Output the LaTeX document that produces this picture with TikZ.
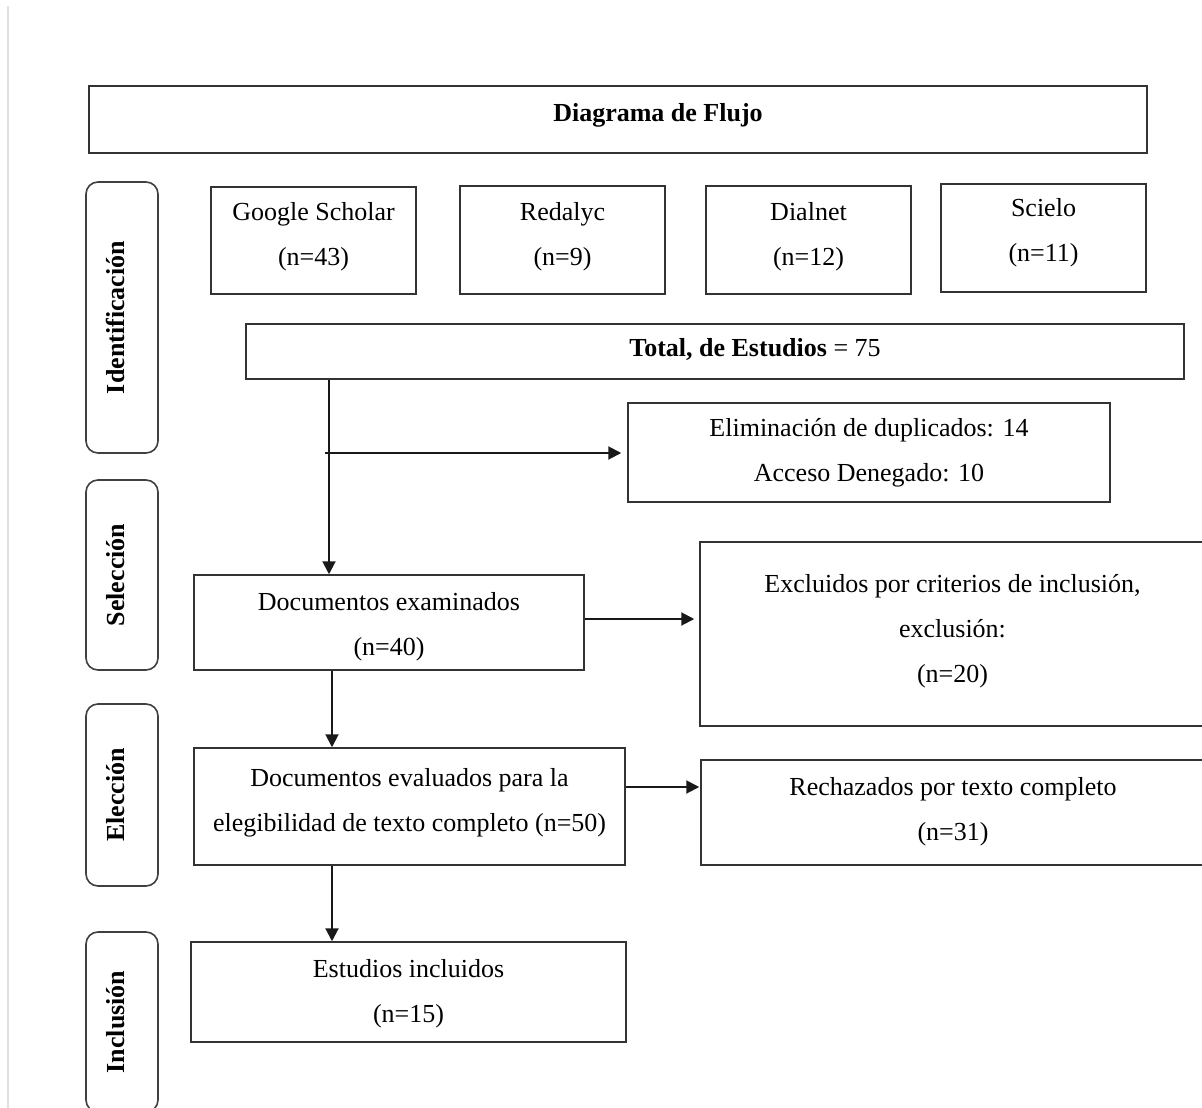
\documentclass[tikz,border=0pt]{standalone}
\usepackage{fontspec}
\setmainfont{Liberation Serif}
\usetikzlibrary{arrows.meta}
\newcommand\tp[1]{\rule{0pt}{#1}}
\newcommand\bt[1]{\rule[-#1]{0pt}{#1}}
\begin{document}
\begin{tikzpicture}[x=1pt,y=-1pt,
  box/.style={draw=black!80, line width=1.5pt, rectangle, inner sep=0pt, align=center,
    font=\fontsize{26}{45}\selectfont},
  side/.style={draw=black!75, line width=1.6pt, rounded corners=12pt, inner sep=0pt,
    rotate=90, font=\fontsize{26}{30}\selectfont\bfseries, text height=18pt, text depth=13pt},
  arr/.style={line width=2pt, draw=black!90, -{Triangle[length=13pt,width=13pt]}},
  edge/.style={draw=black!12, line width=2pt}
]
\useasboundingbox (0,0) rectangle (1202,1108);
\clip (0,0) rectangle (1202,1108);
\fill[white] (0,0) rectangle (1202,1108);
\draw[edge] (8,6) -- (8,1108);

% title
\node[box, minimum width=1058pt, minimum height=67pt] (title) at (618,119.5)
  {\hspace*{80pt}\tp{20pt}\textbf{Diagrama de Flujo}\bt{15.6pt}};

% side labels
\node[side, minimum width=271pt, minimum height=72pt] (ident) at (122,317.5) {Identificación};
\node[side, minimum width=190pt, minimum height=72pt] (sel) at (122,575) {Selección};
\node[side, minimum width=182pt, minimum height=72pt] (ele) at (122,795) {Elección};
\node[side, minimum width=180pt, minimum height=72pt] (inc) at (122,1022) {Inclusión};

% sources
\node[box, minimum width=205pt, minimum height=107pt] (gs) at (313.5,240.5)
  {\tp{20pt}Google Scholar\\(n=43)\bt{14.6pt}};
\node[box, minimum width=205pt, minimum height=108pt] (red) at (562.5,240)
  {\tp{20pt}Redalyc\\(n=9)\bt{13.6pt}};
\node[box, minimum width=205pt, minimum height=108pt] (dia) at (808.5,240)
  {\tp{20pt}Dialnet\\(n=12)\bt{15pt}};
\node[box, minimum width=205pt, minimum height=108pt] (sci) at (1043.5,238)
  {\tp{20pt}Scielo\\(n=11)\bt{17.6pt}};

% total
\node[box, minimum width=938pt, minimum height=55pt] (total) at (715,351.5)
  {\hspace*{80pt}\tp{20pt}\textbf{Total, de Estudios} = 75\bt{9.6pt}};

% eliminated
\node[box, minimum width=482pt, minimum height=99pt] (elim) at (869,452.5)
  {\tp{20pt}Eliminación de duplicados: 14\\Acceso Denegado: 10\bt{8pt}};

% examined
\node[box, minimum width=390pt, minimum height=95pt] (docex) at (389,622.5)
  {\tp{26pt}Documentos examinados\\(n=40)\bt{6pt}};
\node[box, minimum width=505pt, minimum height=184pt] (excl) at (952.5,634)
  {\tp{20pt}Excluidos por criterios de inclusión,\\exclusión:\\(n=20)\bt{14pt}};

% evaluated
\node[box, minimum width=431pt, minimum height=117pt] (doceval) at (409.5,806.5)
  {\tp{20pt}Documentos evaluados para la\\elegibilidad de texto completo (n=50)\bt{16pt}};
\node[box, minimum width=504pt, minimum height=105pt] (rech) at (953,812.5)
  {\tp{20pt}Rechazados por texto completo\\(n=31)\bt{10pt}};

% included
\node[box, minimum width=435pt, minimum height=100pt] (estinc) at (408.5,992)
  {\tp{21pt}Estudios incluidos\\(n=15)\bt{6pt}};

% connectors
\coordinate (vx) at (329,0);
\coordinate (vx2) at (332,0);
\coordinate (br) at (325,453);
\draw[arr] (vx |- total.south) -- (vx |- docex.north);
\draw[arr, shorten >=6pt] (br) -- (br -| elim.west);
\draw[arr, shorten >=5pt] ([yshift=3.5pt]docex.east) -- ([yshift=3.5pt]docex.east -| excl.west);
\draw[arr] (vx2 |- docex.south) -- (vx2 |- doceval.north);
\draw[arr, shorten >=1pt] ([yshift=19.5pt]doceval.east) -- ([yshift=19.5pt]doceval.east -| rech.west);
\draw[arr] (vx2 |- doceval.south) -- (vx2 |- estinc.north);
\end{tikzpicture}
\end{document}
